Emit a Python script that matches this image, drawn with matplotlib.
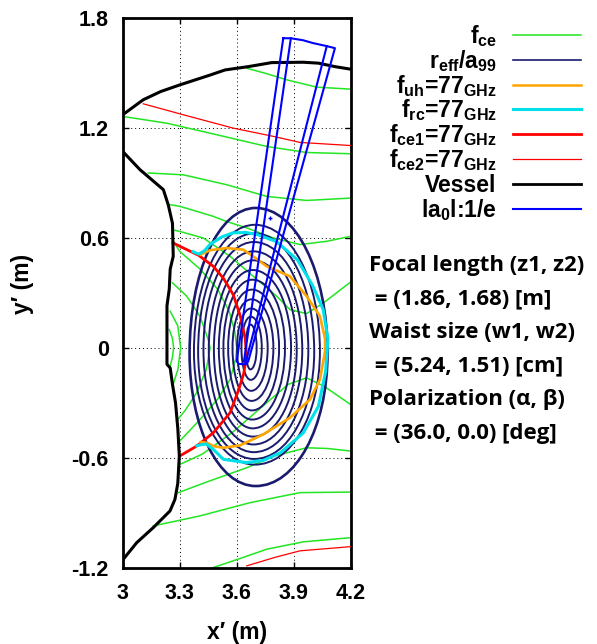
import matplotlib
matplotlib.use('Agg')
import matplotlib.pyplot as plt
from matplotlib.path import Path
from matplotlib.patches import PathPatch
from matplotlib.lines import Line2D

plt.rcParams['font.family'] = ['Liberation Sans', 'DejaVu Sans']
plt.rcParams['font.weight'] = 'bold'
plt.rcParams['mathtext.fontset'] = 'custom'
plt.rcParams['mathtext.rm'] = 'Liberation Sans:bold'
plt.rcParams['mathtext.it'] = 'Liberation Sans:bold'
plt.rcParams['mathtext.bf'] = 'Liberation Sans:bold'

W, H = 597, 644

# 容器 (vessel) 轮廓
vessel_top_x = [3.0, 3.108, 3.20, 3.30, 3.46, 3.539, 3.661, 3.784, 3.95, 4.03, 4.117, 4.2]
vessel_top_y = [1.273, 1.355, 1.40, 1.436, 1.49, 1.518, 1.536, 1.558, 1.56, 1.555, 1.536, 1.522]
vessel_in_x = [3.0, 3.091, 3.214, 3.24, 3.262, 3.266, 3.25, 3.245, 3.233, 3.233, 3.25, 3.262,
               3.278, 3.29, 3.298, 3.29, 3.275, 3.249, 3.161, 3.074, 3.003]
vessel_in_y = [1.073, 0.973, 0.864, 0.78, 0.68, 0.5, 0.43, 0.32, 0.23, -0.09, -0.11, -0.2,
               -0.3, -0.44, -0.59, -0.74, -0.828, -0.891, -0.982, -1.064, -1.155]

# 磁面 r_eff/a99 (内 -> 外)
flux_left = [3.648, 3.625, 3.602, 3.578, 3.555, 3.53, 3.506, 3.48, 3.453, 3.425, 3.397, 3.375, 3.352]
flux_right = [3.705, 3.732, 3.763, 3.793, 3.823, 3.854, 3.886, 3.916, 3.945, 3.977, 4.008, 4.038, 4.078]
flux_top = [0.127, 0.17, 0.215, 0.265, 0.318, 0.372, 0.425, 0.478, 0.527, 0.578, 0.625, 0.672, 0.764]
flux_bottom = [-0.118, -0.175, -0.235, -0.29, -0.342, -0.392, -0.44, -0.485, -0.528, -0.57, -0.607, -0.638, -0.755]
flux_xc = [3.672, 3.674, 3.676, 3.678, 3.68, 3.682, 3.684, 3.686, 3.688, 3.69, 3.692, 3.695, 3.70]
flux_yc = [0.0, 0.0, 0.0, 0.0, 0.0, 0.0, 0.0, -0.01, -0.01, -0.01, -0.02, -0.02, -0.03]

# f_ce 等值线
fce_lines = [
    ([3.653, 3.75, 3.863, 4.021, 4.2], [1.527, 1.50, 1.464, 1.424, 1.413]),
    ([3.0, 3.232, 3.495, 3.758, 3.968, 4.2], [1.264, 1.227, 1.164, 1.1, 1.067, 1.06]),
    ([3.135, 3.319, 3.547, 3.758, 3.968, 4.2], [0.955, 0.945, 0.891, 0.827, 0.805, 0.818]),
    ([3.249, 3.30, 3.407, 3.477, 3.547, 3.653, 3.793, 3.933, 4.074, 4.2],
     [0.782, 0.773, 0.74, 0.718, 0.69, 0.655, 0.6, 0.564, 0.582, 0.609]),
    ([3.262, 3.30, 3.424, 3.565, 3.687, 3.81, 3.88, 3.968, 4.056, 4.2],
     [0.645, 0.636, 0.6, 0.5, 0.391, 0.282, 0.209, 0.187, 0.245, 0.36]),
    ([3.262, 3.30, 3.407, 3.50, 3.56, 3.59, 3.60, 3.595, 3.565, 3.50, 3.40, 3.29],
     [0.59, 0.527, 0.43, 0.32, 0.2, 0.09, 0.0, -0.06, -0.173, -0.28, -0.40, -0.52]),
    ([3.262, 3.337, 3.407, 3.45, 3.46, 3.44, 3.389, 3.33, 3.283],
     [0.355, 0.282, 0.172, 0.045, 0.0, -0.118, -0.245, -0.34, -0.40]),
    ([3.25, 3.29, 3.305, 3.29, 3.265], [0.2, 0.12, 0.0, -0.12, -0.2]),
    ([3.245, 3.262, 3.268, 3.262, 3.25], [0.1, 0.05, 0.0, -0.05, -0.1]),
    ([3.295, 3.42, 3.58, 3.758, 3.87, 3.968, 4.06, 4.2],
     [-0.64, -0.58, -0.46, -0.3, -0.2, -0.164, -0.21, -0.31]),
    ([3.293, 3.45, 3.653, 3.80, 3.968, 4.08, 4.2],
     [-0.791, -0.73, -0.655, -0.59, -0.546, -0.55, -0.564]),
    ([3.161, 3.407, 3.67, 3.933, 4.2], [-0.973, -0.918, -0.846, -0.791, -0.788]),
    ([3.477, 3.62, 3.758, 3.95, 4.2], [-1.2, -1.15, -1.1, -1.06, -1.037]),
]

# f_uh = 77 GHz
fuh_x = [3.41, 3.46, 3.495, 3.547, 3.635, 3.70, 3.758, 3.88, 3.968, 4.038, 4.065, 4.065,
         4.038, 3.986, 3.88, 3.74, 3.617, 3.53, 3.477, 3.442, 3.41]
fuh_y = [0.509, 0.533, 0.538, 0.545, 0.536, 0.49, 0.445, 0.391, 0.282, 0.173, 0.05, -0.02,
         -0.173, -0.282, -0.382, -0.473, -0.533, -0.546, -0.537, -0.518, -0.515]

# f_rc = 77 GHz
frc_x = [3.37, 3.40, 3.43, 3.46, 3.52, 3.58, 3.65, 3.71, 3.81, 3.92, 4.0, 4.055, 4.08,
         4.068, 4.03, 3.95, 3.83, 3.74, 3.65, 3.53, 3.477, 3.44, 3.41, 3.39]
frc_y = [0.525, 0.512, 0.53, 0.565, 0.605, 0.628, 0.63, 0.618, 0.58, 0.48, 0.34, 0.21, 0.05,
         -0.13, -0.32, -0.465, -0.573, -0.615, -0.627, -0.609, -0.555, -0.525, -0.53, -0.535]

# f_ce1 = 77 GHz
fce1_x = [3.266, 3.30, 3.40, 3.477, 3.53, 3.582, 3.62, 3.645, 3.652, 3.637, 3.61, 3.565,
          3.477, 3.389, 3.30]
fce1_y = [0.573, 0.555, 0.505, 0.445, 0.38, 0.29, 0.17, 0.05, -0.04, -0.14, -0.23, -0.355,
          -0.464, -0.537, -0.591]

# f_ce2 = 77 GHz (上下两段)
fce2_x = [3.108, 3.319, 3.582, 3.793, 3.933, 4.2, None, 3.653, 3.80, 3.933, 4.2]
fce2_y = [1.333, 1.273, 1.2, 1.155, 1.122, 1.105, None, -1.191, -1.145, -1.109, -1.086]

# 波束 |a0| = 1/e
beam_x = [3.845, 3.885, 3.95, 4.0, 4.074, 4.117, 3.661, 3.65, 3.61, 3.600, 3.845]
beam_y = [1.691, 1.691, 1.68, 1.665, 1.648, 1.637, -0.073, -0.09, -0.088, -0.073, 1.691]
beam_in1_x = [3.885, 3.638]
beam_in1_y = [1.691, -0.075]
beam_in2_x = [4.074, 3.648]
beam_in2_y = [1.648, -0.078]

xticks = [3, 3.3, 3.6, 3.9, 4.2]
xtick_labels = ['3', '3.3', '3.6', '3.9', '4.2']
yticks = [-1.2, -0.6, 0, 0.6, 1.2, 1.8]
ytick_labels = ['-1.2', '-0.6', '0', '0.6', '1.2', '1.8']

info_lines = ['Focal length (z1, z2)', ' = (1.86, 1.68) [m]', 'Waist size (w1, w2)',
              ' = (5.24, 1.51) [cm]', 'Polarization (α, β)', ' = (36.0, 0.0) [deg]']

c_green = '#22e622'
c_navy = '#1a1a6e'
c_orange = '#ffa500'
c_cyan = '#00e0ea'
c_red = '#ff0000'
c_blue = '#0000ff'


def egg(xl, xr, yt, yb, xc, yc, k=0.56):
    verts = [(xr, yc), (xr, yc + k * (yt - yc)), (xc + k * (xr - xc), yt), (xc, yt),
             (xc - k * (xc - xl), yt), (xl, yc + k * (yt - yc)), (xl, yc),
             (xl, yc - k * (yc - yb)), (xc - k * (xc - xl), yb), (xc, yb),
             (xc + k * (xr - xc), yb), (xr, yc - k * (yc - yb)), (xr, yc)]
    codes = [Path.MOVETO] + [Path.CURVE4] * 12
    return Path(verts, codes)


fig = plt.figure(figsize=(W / 100, H / 100), dpi=100)
ax = fig.add_axes([122.7 / W, 1 - 567.5 / H, 228 / W, 549.2 / H])

for xs, ys in fce_lines:
    ax.plot(xs, ys, color=c_green, lw=1.1, zorder=2)

for i in range(len(flux_left)):
    p = egg(flux_left[i], flux_right[i], flux_top[i], flux_bottom[i], flux_xc[i], flux_yc[i])
    lw = 1.9 if i == len(flux_left) - 1 else 1.4
    ax.add_patch(PathPatch(p, fill=False, edgecolor=c_navy, lw=lw, zorder=3))

ax.plot(fce1_x, fce1_y, color=c_red, lw=2.0, zorder=4)
ax.plot(fuh_x, fuh_y, color=c_orange, lw=1.9, zorder=5)
ax.plot(frc_x, frc_y, color=c_cyan, lw=2.2, zorder=6)
ax.plot(fce2_x, fce2_y, color=c_red, lw=0.9, zorder=4)
ax.plot(vessel_top_x, vessel_top_y, color='black', lw=2.2, zorder=7)
ax.plot(vessel_in_x, vessel_in_y, color='black', lw=2.2, zorder=7)
ax.plot(beam_x, beam_y, color=c_blue, lw=1.5, zorder=8)
ax.plot(beam_in1_x, beam_in1_y, color=c_blue, lw=1.5, zorder=8)
ax.plot(beam_in2_x, beam_in2_y, color=c_blue, lw=1.5, zorder=8)
ax.plot([3.775], [0.709], marker='+', color=c_blue, ms=3, mew=1, zorder=8)

ax.set_xlim(3, 4.2)
ax.set_ylim(-1.2, 1.8)
ax.set_xticks(xticks)
ax.set_xticklabels(xtick_labels)
ax.set_yticks(yticks)
ax.set_yticklabels(ytick_labels)
ax.tick_params(direction='in', length=4.5, width=1, top=True, right=True, labelsize=15.5)
ax.tick_params(axis='x', pad=11)
ax.tick_params(axis='y', pad=10)
ax.grid(True, color='black', linestyle=(0, (1, 3)), lw=0.7)
for s in ax.spines.values():
    s.set_linewidth(2)

fig.text(23 / W, 1 - 284 / H, 'y′ (m)', rotation=90, ha='center', va='center', fontsize=16.5)
fig.text(237.5 / W, 1 - 632 / H, 'x′ (m)', ha='center', va='center', fontsize=16.5)

# 图例
leg_labels = ['f$_{\\mathrm{ce}}$', 'r$_{\\mathrm{eff}}$/a$_{99}$',
              'f$_{\\mathrm{uh}}$=77$_{\\mathrm{GHz}}$', 'f$_{\\mathrm{rc}}$=77$_{\\mathrm{GHz}}$',
              'f$_{\\mathrm{ce1}}$=77$_{\\mathrm{GHz}}$', 'f$_{\\mathrm{ce2}}$=77$_{\\mathrm{GHz}}$',
              'Vessel', 'la$_0$l:1/e']
leg_colors = [c_green, c_navy, c_orange, c_cyan, c_red, c_red, 'black', c_blue]
leg_widths = [1.1, 1.2, 1.8, 2.2, 2.0, 0.9, 2.0, 1.5]
leg_y = [34.7, 60, 85, 109.3, 134.3, 159.3, 184, 209.3]
for lab, col, lw, yy in zip(leg_labels, leg_colors, leg_widths, leg_y):
    fig.text(496.7 / W, 1 - (yy + 1) / H, lab, ha='right', va='center', fontsize=16.5)
    fig.add_artist(Line2D([513.3 / W, 580.7 / W], [1 - yy / H, 1 - yy / H], color=col, lw=lw))

info_y = [271, 304.5, 338, 371.5, 405, 438.5]
for t, yy in zip(info_lines, info_y):
    fig.text(369 / W, 1 - yy / H, t, ha='left', va='baseline', fontsize=16,
             family=['Open Sans', 'DejaVu Sans'], fontweight='bold')

fig.savefig('out.png', dpi=100)
